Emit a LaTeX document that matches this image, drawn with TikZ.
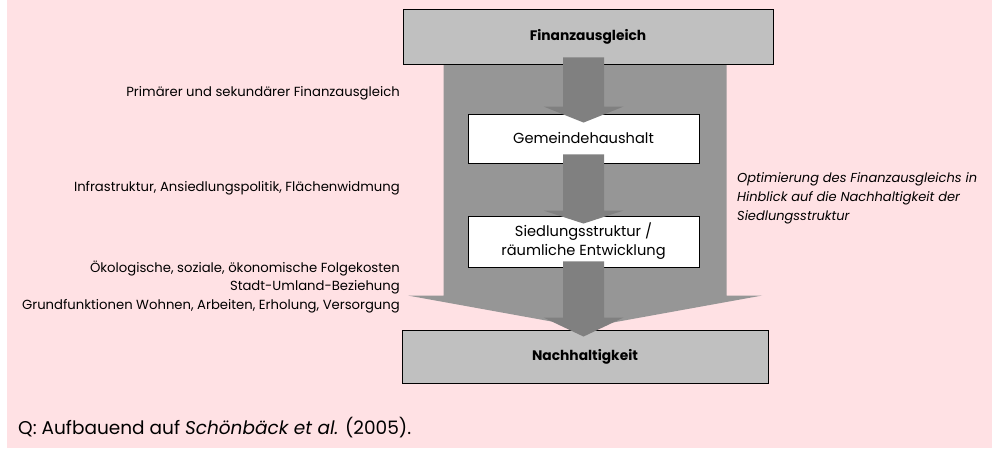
\documentclass[tikz,border=0pt]{standalone}
\usepackage{fontspec}
\setmainfont{Poppins}
\usetikzlibrary{calc,backgrounds}
\definecolor{bgpink}{HTML}{FFE1E4}
\definecolor{boxgray}{HTML}{C0C0C0}
\definecolor{biggray}{HTML}{969696}
\definecolor{smallgray}{HTML}{808080}
% #1 start coord, #2 tip coord, #3 head length, #4 body half width, #5 head half width, #6 style
\newcommand{\BlockArrow}[6]{%
  \fill[#6] ($(#1)+(-#4,0)$) -- ($(#2)+(-#4,-#3)$) -- ($(#2)+(-#5,-#3)$) -- (#2)
    -- ($(#2)+(#5,-#3)$) -- ($(#2)+(#4,-#3)$) -- ($(#1)+(#4,0)$) -- cycle;}
\begin{document}
\begin{tikzpicture}[x=1pt,y=-1pt,
  box/.style={draw=black, line width=0.9pt, inner sep=0pt, align=center},
  graybox/.style={box, fill=boxgray, font=\fontsize{13.8}{16}\selectfont\bfseries},
  whitebox/.style={box, fill=white, font=\fontsize{14.6}{19}\selectfont},
  sidelabel/.style={inner sep=0pt, align=right, anchor=east, font=\fontsize{13.2}{18.5}\selectfont},
  rightlabel/.style={inner sep=0pt, align=left, anchor=west, font=\fontsize{13}{19}\selectfont\itshape}]
\useasboundingbox (0,0) rectangle (996,450);
\node[graybox, minimum width=370pt, minimum height=55pt] (fin) at (588,36.5) {Finanzausgleich};
\node[whitebox, minimum width=231pt, minimum height=49pt] (gem) at (583.5,138.5) {Gemeindehaushalt};
\node[whitebox, minimum width=231pt, minimum height=51pt] (sied) at (583.5,241.5) {Siedlungsstruktur /\\räumliche Entwicklung};
\node[graybox, minimum width=366pt, minimum height=53pt] (nach) at (585,356.5) {Nachhaltigkeit};
\begin{pgfonlayer}{background}
  \fill[bgpink] (7,0) rectangle (992,448);
  \coordinate (bigS) at (nach.north |- fin.south);
  \coordinate (bigE) at ($(nach.north)+(0,-2)$);
  \BlockArrow{bigS}{bigE}{32}{141.5}{177}{biggray}
\end{pgfonlayer}
\coordinate (a1s) at ($(gem.north |- fin.south)+(0,-7)$);
\coordinate (a1e) at ($(gem.north)+(0,9)$);
\BlockArrow{a1s}{a1e}{16}{20.5}{40}{smallgray}
\coordinate (a2s) at ($(gem.south)+(0,-9)$);
\coordinate (a2e) at ($(sied.north)+(0,8)$);
\BlockArrow{a2s}{a2e}{13}{20.5}{40}{smallgray}
\coordinate (a3s) at ($(sied.south)+(0,-6)$);
\coordinate (a3e) at ($(sied.south |- nach.north)+(0,7)$);
\BlockArrow{a3s}{a3e}{19}{20.5}{40}{smallgray}
\node[sidelabel] (l1) at (400,93) {Primärer und sekundärer Finanzausgleich};
\node[sidelabel] (l2) at (400,188) {Infrastruktur, Ansiedlungspolitik, Flächenwidmung};
\node[sidelabel] (l3) at (400,287) {Ökologische, soziale, ökonomische Folgekosten\\Stadt-Umland-Beziehung\\Grundfunktionen Wohnen, Arbeiten, Erholung, Versorgung};
\node[rightlabel] (r1) at (737,198) {Optimierung des Finanzausgleichs in\\Hinblick auf die Nachhaltigkeit der\\Siedlungsstruktur};
\node[inner sep=0pt, anchor=west, font=\fontsize{18.5}{22}\selectfont] (src) at (18,428) {Q: Aufbauend auf \textit{Schönbäck et al.} (2005).};
\end{tikzpicture}
\end{document}
